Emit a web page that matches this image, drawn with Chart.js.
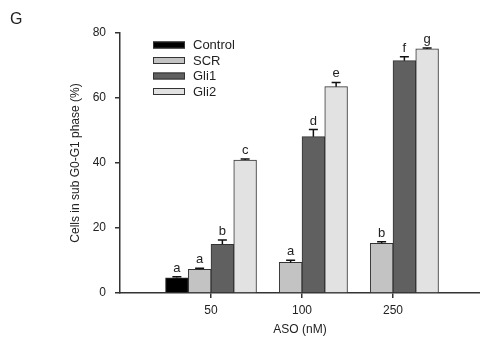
<!DOCTYPE html>
<html><head><meta charset="utf-8">
<script src="https://cdn.jsdelivr.net/npm/chart.js@4"></script>
<style>html,body{margin:0;padding:0;background:#fff}#w{width:480px;height:351px;position:relative}</style>
</head><body><div id="w"><canvas id="c" width="480" height="351"></canvas></div>
<script>
const categories = ['50', '100', '250'];
const seriesNames = ['Control', 'SCR', 'Gli1', 'Gli2'];
const controlValues = [4.7, null, null];
const scrValues = [7.3, 9.4, 15.3];
const gli1Values = [15.0, 48.1, 71.5];
const gli2Values = [40.9, 63.5, 75.1];
const controlErrors = [0.3, null, null];
const scrErrors = [0.3, 0.7, 0.5];
const gli1Errors = [1.3, 2.2, 1.2];
const gli2Errors = [0.3, 1.3, 0.3];
const controlLetters = ['a', null, null];
const scrLetters = ['a', 'a', 'b'];
const gli1Letters = ['b', 'd', 'f'];
const gli2Letters = ['c', 'e', 'g'];
const yTicks = [0, 20, 40, 60, 80];
const panelLabel = 'G';
const xTitle = 'ASO (nM)';
const yTitle = 'Cells in sub G0-G1 phase (%)';

const FONT = '"Liberation Sans", Arial, sans-serif';
Chart.defaults.font.family = FONT;
Chart.defaults.font.size = 12;
Chart.defaults.color = '#222';

const colors = ['#000000', '#c3c3c3', '#606060', '#e2e2e2'];
const valueSets = [controlValues, scrValues, gli1Values, gli2Values];
const errorSets = [controlErrors, scrErrors, gli1Errors, gli2Errors];
const letterSets = [controlLetters, scrLetters, gli1Letters, gli2Letters];

const datasets = seriesNames.map((name, k) => ({
  label: name,
  data: valueSets[k].map((v, i) => ({x: i + 1, y: v})),
  errors: errorSets[k],
  letters: letterSets[k],
  backgroundColor: colors[k],
  borderColor: '#333',
  borderWidth: 1,
  categoryPercentage: 1,
  barPercentage: 1
}));

const errPlugin = {
  id: 'errLetters',
  afterDatasetsDraw(chart) {
    const ctx = chart.ctx, ys = chart.scales.y;
    chart.data.datasets.forEach((ds, di) => {
      const meta = chart.getDatasetMeta(di);
      ds.data.forEach((pt, j) => {
        if (pt.y == null) return;
        const el = meta.data[j];
        const e = ds.errors[j] || 0;
        const top = ys.getPixelForValue(pt.y + e);
        ctx.save();
        ctx.strokeStyle = '#111';
        ctx.lineWidth = 1.5;
        ctx.beginPath();
        ctx.moveTo(el.x, el.y); ctx.lineTo(el.x, top);
        ctx.moveTo(el.x - 4.5, top); ctx.lineTo(el.x + 4.5, top);
        ctx.stroke();
        if (ds.letters[j]) {
          ctx.fillStyle = '#222';
          ctx.font = '13px ' + FONT;
          ctx.textAlign = 'center';
          ctx.textBaseline = 'alphabetic';
          ctx.fillText(ds.letters[j], el.x, top - 5);
        }
        ctx.restore();
      });
    });
  }
};

const legendPlugin = {
  id: 'boxLegend',
  afterDraw(chart) {
    const ctx = chart.ctx;
    ctx.save();
    chart.data.datasets.forEach((ds, k) => {
      const cy = 45 + k * 15.5;
      ctx.fillStyle = ds.backgroundColor;
      ctx.fillRect(153, cy - 3.5, 32, 7);
      ctx.strokeStyle = '#333';
      ctx.lineWidth = 1;
      ctx.strokeRect(153.5, cy - 3, 31, 6);
      ctx.fillStyle = '#222';
      ctx.font = '13px ' + FONT;
      ctx.textAlign = 'left';
      ctx.textBaseline = 'middle';
      ctx.fillText(ds.label, 193, cy + 0.5);
    });
    ctx.fillStyle = '#222';
    ctx.font = '16px ' + FONT;
    ctx.textAlign = 'left';
    ctx.textBaseline = 'alphabetic';
    ctx.fillText(panelLabel, 10, 24);
    ctx.restore();
  }
};

new Chart(document.getElementById('c'), {
  type: 'bar',
  data: {datasets},
  plugins: [errPlugin, legendPlugin],
  options: {
    responsive: false,
    animation: false,
    devicePixelRatio: 1,
    layout: {padding: {left: 60, top: 33, right: 0, bottom: 0}},
    plugins: {legend: {display: false}, tooltip: {enabled: false}},
    scales: {
      x: {
        type: 'linear',
        offset: false,
        min: 0,
        max: 3.956,
        afterFit(s) { s.height = 58; s.paddingRight = 0; s.paddingLeft = 0; },
        afterBuildTicks(s) { s.ticks = categories.map((c, i) => ({value: i + 1})); },
        ticks: {autoSkip: false, maxRotation: 0, padding: 5, color: '#222',
          callback: (v, i) => categories[i]},
        grid: {display: true, offset: false, drawOnChartArea: false, drawTicks: true, tickLength: 5, color: '#333', lineWidth: 1.5},
        border: {display: true, color: '#333', width: 1.5},
        title: {display: true, text: xTitle, color: '#222', font: {size: 12}, padding: {top: 0, bottom: 14}}
      },
      y: {
        min: 0,
        max: 80,
        afterFit(s) { s.width = 60; },
        afterBuildTicks(s) { s.ticks = yTicks.map(v => ({value: v})); },
        ticks: {padding: 9, color: '#222'},
        grid: {display: true, drawOnChartArea: false, drawTicks: true, tickLength: 5, color: '#333', lineWidth: 1.5},
        border: {display: true, color: '#333', width: 1.5},
        title: {display: true, text: yTitle, color: '#222', font: {size: 12}, padding: {top: 8, bottom: 0}}
      }
    }
  }
});
</script>
</body></html>
